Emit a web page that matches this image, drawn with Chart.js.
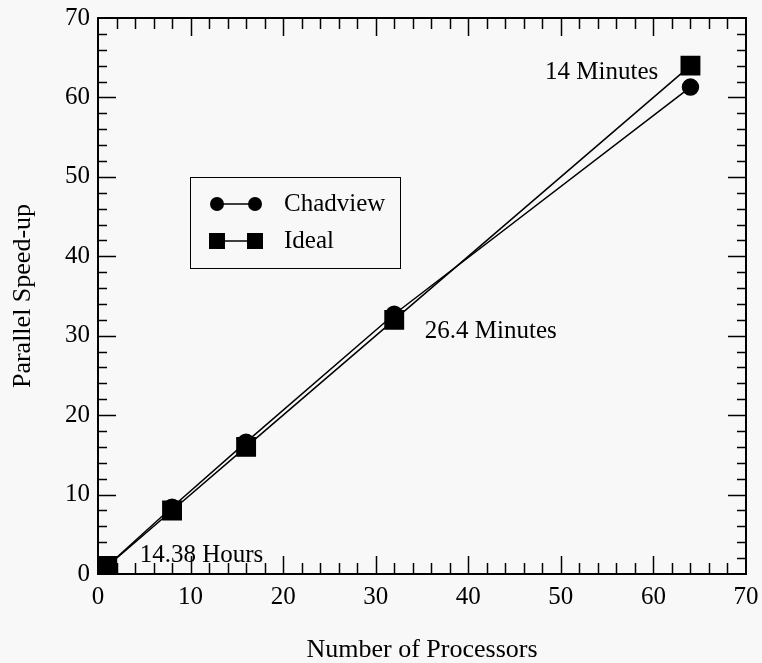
<!DOCTYPE html>
<html lang="en">
<head>
  <meta charset="UTF-8">
  <title>Parallel Speed-up</title>
  <script src="https://cdn.jsdelivr.net/npm/chart.js"></script>
  <style>
    * { margin: 0; padding: 0; box-sizing: border-box; }
    body { background-color: #f8f8f8; }
    .chart-container { width: 762px; height: 663px; }
  </style>
</head>
<body>
  <div class="chart-container">
    <canvas id="speedupChart" width="762" height="663"></canvas>
  </div>

<script>
  const processors = [1, 8, 16, 32, 64];
  const chadview = [1, 8.4, 16.6, 32.7, 61.3];
  const ideal = [1, 8, 16, 32, 64];
  const seriesNames = ['Chadview', 'Ideal'];
  const axisTicks = [0, 10, 20, 30, 40, 50, 60, 70];
  const notes = ['14.38 Hours', '26.4 Minutes', '14 Minutes'];

  const serif = "'Liberation Serif', 'DejaVu Serif', serif";

  // ticks pointing inward on all four sides, every 2 units, longer every 10
  const frameTicks = {
    id: 'frameTicks',
    afterDatasetsDraw(chart) {
      const { ctx, chartArea: a, scales: { x, y } } = chart;
      ctx.save();
      ctx.strokeStyle = '#000';
      ctx.lineWidth = 2;
      ctx.strokeRect(a.left, a.top, a.right - a.left, a.bottom - a.top);
      ctx.lineWidth = 1.5;
      ctx.beginPath();
      for (let v = 2; v < 70; v += 2) {
        const major = v % 10 === 0;
        const px = Math.round(x.getPixelForValue(v)) + 0.5;
        const lx = major ? 18 : 11;
        ctx.moveTo(px, a.bottom); ctx.lineTo(px, a.bottom - lx);
        ctx.moveTo(px, a.top); ctx.lineTo(px, a.top + lx);
        const py = Math.round(y.getPixelForValue(v)) + 0.5;
        const ly = major ? 18 : 9;
        ctx.moveTo(a.left, py); ctx.lineTo(a.left + ly, py);
        ctx.moveTo(a.right, py); ctx.lineTo(a.right - ly, py);
      }
      ctx.stroke();

      // text notes
      ctx.fillStyle = '#000';
      ctx.font = '25px ' + serif;
      ctx.textBaseline = 'middle';
      ctx.textAlign = 'left';
      const spots = [[4.5, 2.3], [35.3, 30.6], [48.3, 63.1]];
      notes.forEach((t, i) => {
        ctx.fillText(t, x.getPixelForValue(spots[i][0]), y.getPixelForValue(spots[i][1]));
      });

      // legend box
      const bx = a.left + 92, by = a.top + 159, bw = 210, bh = 91;
      ctx.fillStyle = '#f8f8f8';
      ctx.fillRect(bx, by, bw, bh);
      ctx.lineWidth = 1;
      ctx.strokeRect(bx + 0.5, by + 0.5, bw, bh);
      chart.data.datasets.slice().sort((p, q) => seriesNames.indexOf(p.label) - seriesNames.indexOf(q.label))
        .forEach((ds, i) => {
          const ly = by + 27 + i * 37;
          ctx.strokeStyle = '#000';
          ctx.lineWidth = 1.5;
          ctx.beginPath();
          ctx.moveTo(bx + 27, ly); ctx.lineTo(bx + 65, ly);
          ctx.stroke();
          ctx.fillStyle = '#000';
          [bx + 27, bx + 65].forEach(cx => {
            if (ds.pointStyle === 'rect') {
              ctx.fillRect(cx - 8, ly - 8, 16, 16);
            } else {
              ctx.beginPath(); ctx.arc(cx, ly, 7, 0, Math.PI * 2); ctx.fill();
            }
          });
          ctx.font = '25px ' + serif;
          ctx.fillText(ds.label, bx + 94, ly);
        });
      ctx.restore();
    }
  };

  const toPoints = vals => processors.map((p, i) => ({ x: p, y: vals[i] }));

  new Chart(document.getElementById('speedupChart'), {
    type: 'scatter',
    data: {
      datasets: [
        {
          label: seriesNames[1], data: toPoints(ideal), order: 0,
          showLine: true, borderColor: '#000', borderWidth: 1.5,
          pointStyle: 'rect', pointRadius: 13, backgroundColor: '#000'
        },
        {
          label: seriesNames[0], data: toPoints(chadview), order: 1,
          showLine: true, borderColor: '#000', borderWidth: 1.5,
          pointStyle: 'circle', pointRadius: 8, backgroundColor: '#000'
        }
      ]
    },
    options: {
      responsive: false,
      animation: false,
      layout: { padding: { top: 18, right: 16, left: 0, bottom: 0 } },
      plugins: { legend: { display: false }, tooltip: { enabled: false } },
      scales: {
        x: {
          type: 'linear', min: 0, max: 70,
          afterBuildTicks: s => { s.ticks = axisTicks.map(v => ({ value: v })); },
          afterFit: s => { s.height = 89; },
          grid: { display: false },
          border: { display: false },
          ticks: { color: '#000', padding: 0, maxRotation: 0, font: { family: serif, size: 25 } },
          title: { display: true, text: 'Number of Processors', color: '#000', padding: { top: 0, bottom: 0 }, font: { family: serif, size: 26, lineHeight: 1 } }
        },
        y: {
          type: 'linear', min: 0, max: 70,
          afterBuildTicks: s => { s.ticks = axisTicks.map(v => ({ value: v })); },
          afterFit: s => { s.width = 98; },
          grid: { display: false },
          border: { display: false },
          ticks: { color: '#000', padding: 0, font: { family: serif, size: 25 } },
          title: { display: true, text: 'Parallel Speed-up', color: '#000', padding: { top: 10, bottom: 0 }, font: { family: serif, size: 26, lineHeight: 1 } }
        }
      }
    },
    plugins: [frameTicks]
  });
</script>
</body>
</html>
